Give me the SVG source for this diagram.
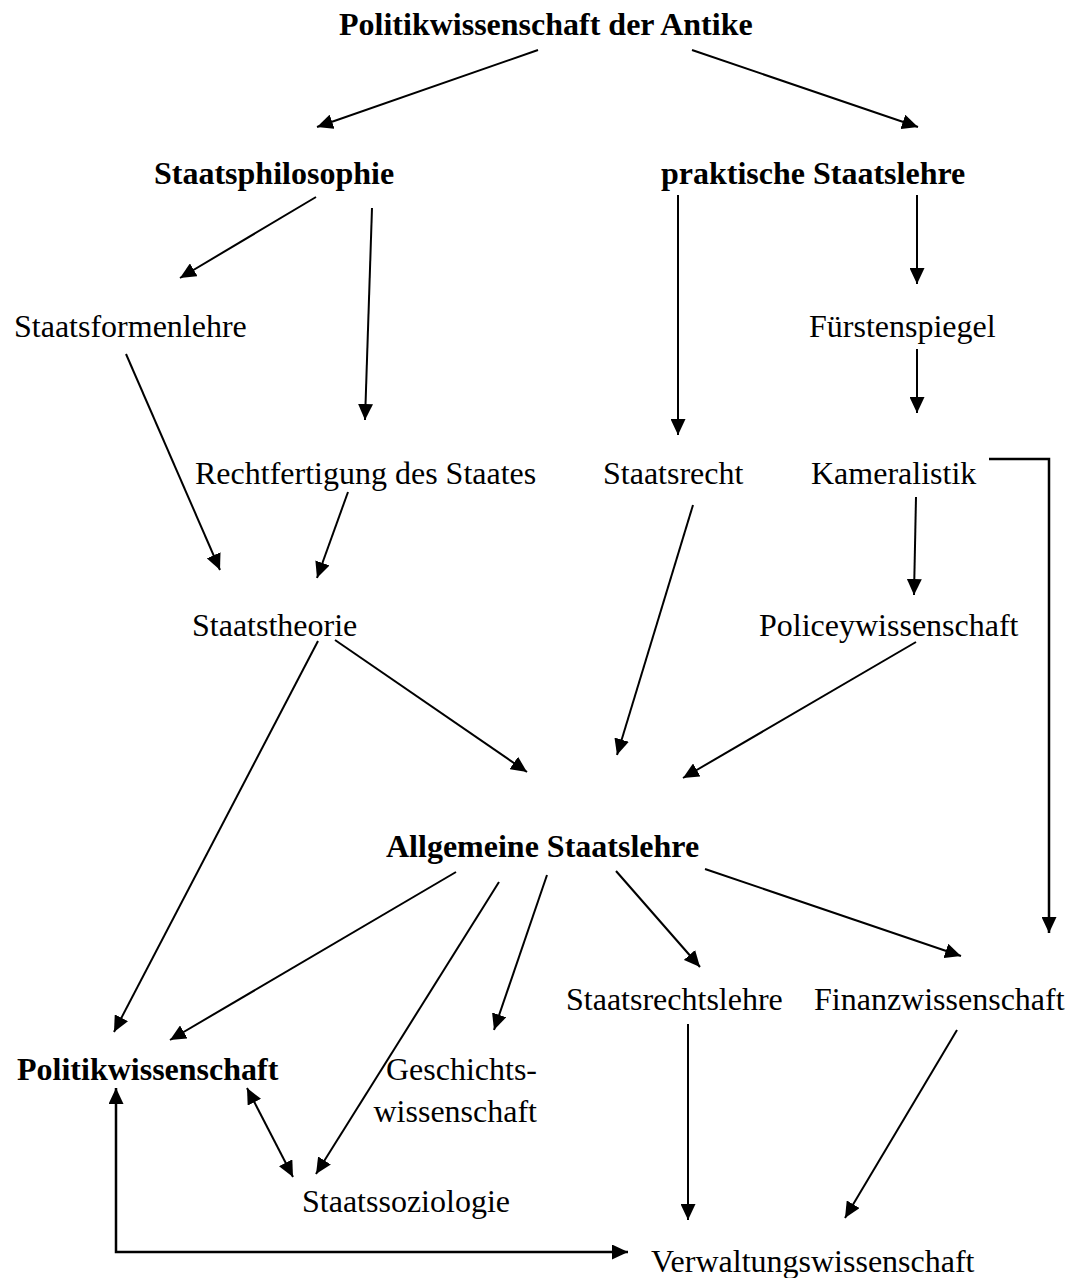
<svg xmlns="http://www.w3.org/2000/svg" width="1083" height="1278" viewBox="0 0 1083 1278">
<style>
text{font-family:"Liberation Serif","Times New Roman",serif;font-size:32px;fill:#000}
.b{font-weight:bold}
.c line,.c path{stroke:#000;stroke-width:2;fill:none}
.c .a{marker-end:url(#ah)}
.c .w{stroke-width:2.5}
</style>
<defs>
<marker id="ah" markerUnits="userSpaceOnUse" markerWidth="16" markerHeight="15" refX="16" refY="7.5" orient="auto-start-reverse">
<path d="M0,0 L16,7.5 L0,15 z" fill="#000"/>
</marker>
</defs>
<rect width="1083" height="1278" fill="#fff"/>
<g id="n-antike"><text class="b" x="339" y="35">Politikwissenschaft der Antike</text></g>
<g id="n-staatsphilosophie"><text class="b" x="154" y="184">Staatsphilosophie</text></g>
<g id="n-praktische"><text class="b" x="661" y="184">praktische Staatslehre</text></g>
<g id="n-staatsformenlehre"><text x="14" y="337">Staatsformenlehre</text></g>
<g id="n-fuerstenspiegel"><text x="809" y="337">Fürstenspiegel</text></g>
<g id="n-rechtfertigung"><text x="195" y="484">Rechtfertigung des Staates</text></g>
<g id="n-staatsrecht"><text x="603" y="484">Staatsrecht</text></g>
<g id="n-kameralistik"><text x="811" y="484">Kameralistik</text></g>
<g id="n-staatstheorie"><text x="192" y="636">Staatstheorie</text></g>
<g id="n-policey"><text x="759" y="636">Policeywissenschaft</text></g>
<g id="n-allgemeine"><text class="b" x="386" y="857">Allgemeine Staatslehre</text></g>
<g id="n-staatsrechtslehre"><text x="566" y="1010">Staatsrechtslehre</text></g>
<g id="n-finanz"><text x="814" y="1010">Finanzwissenschaft</text></g>
<g id="n-politik"><text class="b" x="17" y="1080">Politikwissenschaft</text></g>
<g id="n-geschichte"><text x="537" y="1080" text-anchor="end">Geschichts-</text><text x="537" y="1122" text-anchor="end">wissenschaft</text></g>
<g id="n-soziologie"><text x="302" y="1212">Staatssoziologie</text></g>
<g id="n-verwaltung"><text x="651" y="1272">Verwaltungswissenschaft</text></g>
<g id="connectors" class="c">
<line class="a" x1="538" y1="50" x2="317" y2="127"/>
<line class="a" x1="692" y1="50" x2="918" y2="127"/>
<line class="a" x1="316" y1="197" x2="180" y2="278"/>
<line class="a" x1="372" y1="208" x2="365" y2="420"/>
<line class="a" x1="678" y1="195" x2="678" y2="435"/>
<line class="a" x1="917" y1="195" x2="917" y2="284"/>
<line class="a" x1="126" y1="354" x2="220" y2="570"/>
<line class="a" x1="348" y1="492" x2="317" y2="578"/>
<line class="a" x1="917" y1="349" x2="917" y2="413"/>
<line class="a" x1="916" y1="497" x2="914" y2="595"/>
<path class="a w" d="M989,459 H1049 V933"/>
<line class="a" x1="318" y1="641" x2="114" y2="1032"/>
<line class="a" x1="335" y1="640" x2="527" y2="772"/>
<line class="a" x1="693" y1="505" x2="617" y2="755"/>
<line class="a" x1="916" y1="642" x2="683" y2="778"/>
<line class="a" x1="456" y1="872" x2="170" y2="1040"/>
<line class="a" x1="499" y1="882" x2="316" y2="1174"/>
<line class="a" x1="547" y1="875" x2="494" y2="1030"/>
<line class="a" x1="616" y1="871" x2="700" y2="967"/>
<line class="a" x1="705" y1="869" x2="961" y2="956"/>
<line class="a" x1="688" y1="1024" x2="688" y2="1220"/>
<line class="a" x1="957" y1="1030" x2="845" y2="1218"/>
<line class="a" x1="247" y1="1088" x2="293" y2="1177" style="marker-start:url(#ah)"/>
<path class="a w" d="M116,1088 V1252 H628" style="marker-start:url(#ah)"/>
</g>
</svg>
